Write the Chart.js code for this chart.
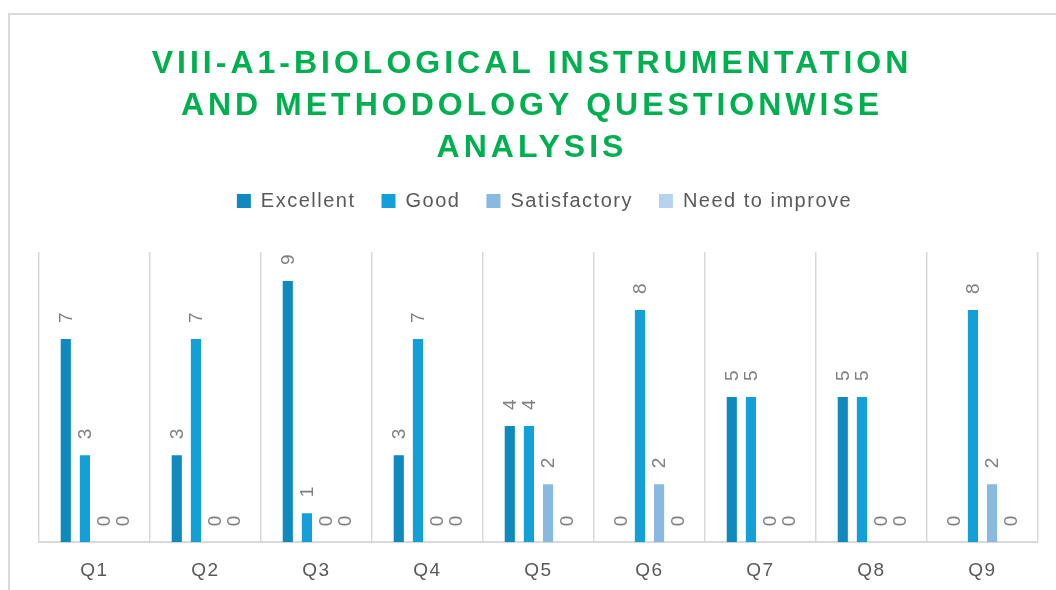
<!DOCTYPE html>
<html>
<head>
<meta charset="UTF-8">
<title>Questionwise Analysis</title>
<script src="https://cdn.jsdelivr.net/npm/chart.js"></script>
<style>
  html, body { margin: 0; background: #fff; overflow: hidden; }
  #frame { position: absolute; left: 8px; top: 13px; width: 1100px; height: 700px;
           border-left: 2px solid #d9d9d9; border-top: 2px solid #d9d9d9; }
  #chart { position: absolute; left: 0; top: 0; }
</style>
</head>
<body>
<div id="frame"></div>
<canvas id="chart" width="1056" height="600"></canvas>
<script>
  var questions = ['Q1', 'Q2', 'Q3', 'Q4', 'Q5', 'Q6', 'Q7', 'Q8', 'Q9'];
  var excellent = [7, 3, 9, 3, 4, 0, 5, 5, 0];
  var good = [3, 7, 1, 7, 4, 8, 5, 5, 8];
  var satisfactory = [0, 0, 0, 0, 2, 2, 0, 0, 2];
  var needToImprove = [0, 0, 0, 0, 0, 0, 0, 0, 0];
  var titleLines = [
    'VIII-A1-BIOLOGICAL INSTRUMENTATION',
    'AND METHODOLOGY QUESTIONWISE',
    'ANALYSIS'
  ];

  // title drawn by hand so it can have letter spacing
  var spacedTitle = {
    id: 'spacedTitle',
    afterDraw: function (chart) {
      var ctx = chart.ctx;
      ctx.save();
      ctx.letterSpacing = '4px';
      ctx.font = 'bold 32px "Liberation Sans", Arial, sans-serif';
      ctx.fillStyle = '#00B050';
      ctx.textAlign = 'center';
      ctx.textBaseline = 'middle';
      titleLines.forEach(function (line, i) {
        ctx.fillText(line, 532, 64 + i * 42);
      });
      ctx.restore();
    }
  };

  // rotated value labels above each bar
  var barLabels = {
    id: 'barLabels',
    afterDatasetsDraw: function (chart) {
      var ctx = chart.ctx;
      ctx.save();
      ctx.letterSpacing = '0px';
      ctx.font = '19px "Liberation Sans", Arial, sans-serif';
      ctx.fillStyle = '#7f7f7f';
      ctx.textAlign = 'left';
      ctx.textBaseline = 'middle';
      chart.data.datasets.forEach(function (ds, di) {
        var meta = chart.getDatasetMeta(di);
        meta.data.forEach(function (bar, i) {
          ctx.save();
          ctx.translate(bar.x + 1, bar.y - 16);
          ctx.rotate(-Math.PI / 2);
          ctx.fillText(String(ds.data[i]), 0, 0);
          ctx.restore();
        });
      });
      ctx.restore();
    }
  };

  // wider text for legend and axis, extra room under the legend
  var textTweaks = {
    id: 'textTweaks',
    beforeLayout: function (chart) {
      chart.ctx.letterSpacing = '1.5px';
      var lg = chart.legend;
      if (lg && !lg._patched) {
        var fit = lg.fit;
        var draw = lg.draw;
        lg.fit = function () {
          fit.call(this);
          this.height += 31;
        };
        // legend sits a little right of the plot centre
        lg.draw = function () {
          this.ctx.save();
          this.ctx.translate(6, 0);
          draw.apply(this, arguments);
          this.ctx.restore();
        };
        lg._patched = true;
      }
    },
    beforeDraw: function (chart) {
      chart.ctx.letterSpacing = '1.5px';
    }
  };

  var chart = new Chart(document.getElementById('chart'), {
    type: 'bar',
    data: {
      labels: questions,
      datasets: [
        { label: 'Excellent', data: excellent, backgroundColor: '#1089BF' },
        { label: 'Good', data: good, backgroundColor: '#13A0D8' },
        { label: 'Satisfactory', data: satisfactory, backgroundColor: '#88BAE1' },
        { label: 'Need to improve', data: needToImprove, backgroundColor: '#B5D3EE' }
      ]
    },
    options: {
      responsive: false,
      animation: false,
      devicePixelRatio: 1,
      categoryPercentage: 0.69,
      barPercentage: 0.53,
      layout: { padding: { left: 39, right: 18, top: 165, bottom: 1 } },
      plugins: {
        title: { display: false },
        tooltip: { enabled: false },
        legend: {
          position: 'top',
          labels: {
            boxWidth: 14,
            boxHeight: 14,
            padding: 26,
            color: '#595959',
            font: { family: '"Liberation Sans", Arial, sans-serif', size: 20 }
          }
        }
      },
      scales: {
        x: {
          grid: { color: '#d9d9d9', lineWidth: 1.5, drawTicks: false },
          border: { color: '#d9d9d9', width: 2 },
          ticks: {
            color: '#595959',
            padding: 17,
            font: { family: '"Liberation Sans", Arial, sans-serif', size: 19 }
          }
        },
        y: { display: false, min: 0, max: 10 }
      }
    },
    plugins: [textTweaks, barLabels, spacedTitle]
  });
</script>
</body>
</html>
